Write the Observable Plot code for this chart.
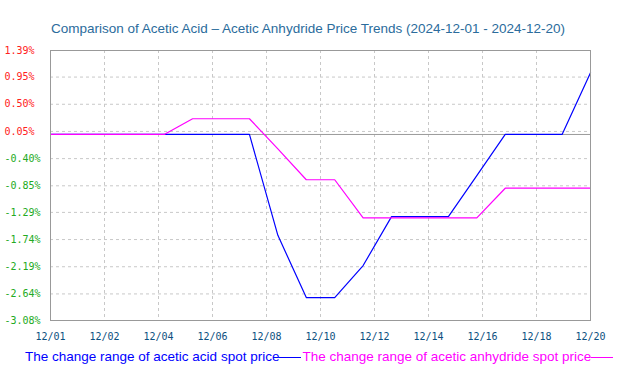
<!DOCTYPE html>
<html>
<head>
<meta charset="utf-8">
<script src="https://cdn.jsdelivr.net/npm/d3@7"></script>
<script src="https://cdn.jsdelivr.net/npm/@observablehq/plot@0.6"></script>
<style>
  html, body { margin: 0; padding: 0; background: #fff; width: 623px; height: 376px; overflow: hidden; }
  #title { height: 40px; box-sizing: border-box; padding: 20px 0 0 51px; font: 13.5px "Liberation Sans", Arial, sans-serif; color: #2b6c9c; white-space: nowrap; line-height: 18px; }
  #chart svg { display: block; }
  #legend { padding: 4px 0 0 25px; font: 13.5px "Liberation Sans", Arial, sans-serif; white-space: nowrap; line-height: 16px; }
  .sw { display: inline-block; width: 22px; height: 1px; vertical-align: middle; margin: 0 1px 0 0; }
</style>
</head>
<body>
<div id="title">Comparison of Acetic Acid – Acetic Anhydride Price Trends (2024-12-01 - 2024-12-20)</div>
<div id="chart"></div>
<div id="legend"></div>
<script>
// Data (percent change), one point per day 12/01 .. 12/20
const days = ["12/01","12/02","12/03","12/04","12/05","12/06","12/07","12/08","12/09","12/10",
              "12/11","12/12","12/13","12/14","12/15","12/16","12/17","12/18","12/19","12/20"];
const aceticAcid = [0, 0, 0, 0, 0, 0, 0, 0, -1.67, -2.70,
                    -2.70, -2.17, -1.36, -1.36, -1.36, -0.68, 0, 0, 0, 1.02];
const aceticAnhydride = [0, 0, 0, 0, 0, 0.26, 0.26, 0.26, -0.24, -0.75,
                         -0.75, -1.38, -1.38, -1.38, -1.38, -1.38, -0.89, -0.89, -0.89, -0.89];
const seriesNames = ["The change range of acetic acid spot price", "The change range of acetic anhydride spot price"];
const seriesColors = ["#0000ff", "#ff00ff"];
const yTicks = [1.39, 0.95, 0.50, 0.05, -0.40, -0.85, -1.29, -1.74, -2.19, -2.64, -3.08];
const xTickLabels = ["12/01","12/02","12/04","12/06","12/08","12/10","12/12","12/14","12/16","12/18","12/20"];

const rows = [];
days.forEach((d, i) => {
  rows.push({i, day: d, series: seriesNames[0], value: aceticAcid[i]});
  rows.push({i, day: d, series: seriesNames[1], value: aceticAnhydride[i]});
});
const n = days.length - 1;
const xTickPos = xTickLabels.map((_, k) => k * n / (xTickLabels.length - 1));
const labelAt = new Map(xTickPos.map((p, k) => [p, xTickLabels[k]]));

const mono = "'DejaVu Sans Mono', monospace";
const chart = Plot.plot({
  width: 623,
  height: 305,
  marginLeft: 50,
  marginRight: 33,
  marginTop: 10,
  marginBottom: 25,
  style: { fontFamily: mono, fontSize: "10px", background: "#fff" },
  x: { domain: [0, n], label: null },
  y: { domain: [-3.08, 1.39], label: null },
  color: { domain: seriesNames, range: seriesColors },
  marks: [
    Plot.gridY(yTicks, { stroke: "#c8c8c8", strokeOpacity: 1, strokeDasharray: "3,3" }),
    Plot.gridX(xTickPos, { stroke: "#c8c8c8", strokeOpacity: 1, strokeDasharray: "3,3" }),
    Plot.ruleY([0], { stroke: "#999" }),
    Plot.line(rows, { x: "i", y: "value", stroke: "series", z: "series", strokeWidth: 1.2 }),
    Plot.frame({ stroke: "#999" }),
    Plot.axisY(yTicks, {
      label: null,
      tickSize: 0, tickPadding: 46, textAnchor: "start",
      tickFormat: d => d.toFixed(2) + "%",
      fill: d => d >= 0 ? "#ff2020" : "#22aa22",
      fontFamily: mono, fontSize: 10
    }),
    Plot.axisX(xTickPos, {
      label: null,
      tickSize: 0, tickPadding: 12,
      tickFormat: d => labelAt.get(d),
      fill: "#0d4f80",
      fontFamily: mono, fontSize: 10
    })
  ]
});
document.getElementById("chart").appendChild(chart);

const legend = document.getElementById("legend");
seriesNames.forEach((name, k) => {
  const t = document.createElement("span");
  t.textContent = name;
  t.style.color = seriesColors[k];
  legend.appendChild(t);
  const s = document.createElement("span");
  s.className = "sw";
  s.style.background = seriesColors[k];
  legend.appendChild(s);
});
</script>
</body>
</html>
